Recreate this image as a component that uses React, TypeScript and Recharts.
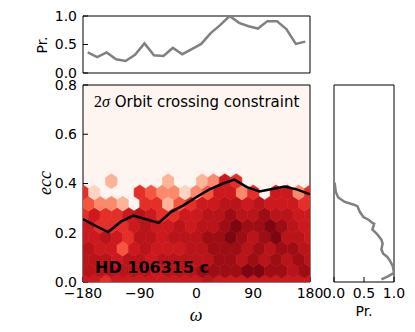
import React from "react";
import { ScatterChart, Scatter, XAxis, YAxis, CartesianGrid } from "recharts";

const omegaTicks = [-180, -90, 0, 90, 180];
const eccTicks = [0, 0.2, 0.4, 0.6, 0.8];
const prTicks = [0, 0.5, 1];

// hexbin colour level per cell, bottom row first.
// row k sits at ecc = k * ECC_STEP; even rows start at omega -180, odd rows at -171
const hexLevels = [
  [6, 6, 5, 6, 6, 6, 6, 6, 6, 6, 6, 7, 6, 6, 6, 6, 6, 6, 6, 6, 6],
  [7, 7, 7, 7, 7, 7, 6, 7, 7, 7, 8, 8, 8, 8, 9, 9, 8, 8, 7, 8],
  [7, 7, 7, 6, 7, 7, 6, 7, 7, 7, 7, 7, 8, 8, 7, 8, 7, 8, 7, 8, 7],
  [7, 6, 6, 4, 6, 7, 6, 6, 6, 7, 7, 8, 8, 8, 7, 8, 7, 8, 8, 7],
  [6, 6, 7, 6, 5, 7, 7, 6, 7, 7, 7, 8, 8, 9, 8, 7, 8, 9, 7, 7, 6],
  [6, 5, 5, 5, 6, 7, 6, 6, 7, 6, 7, 7, 8, 9, 8, 8, 9, 8, 7, 6],
  [5, 6, 5, 5, 6, 7, 6, 5, 5, 6, 6, 7, 7, 8, 7, 7, 8, 7, 7, 6, 6],
  [4, 3, 3, 2, 0, 5, 5, 2, 4, 5, 6, 6, 7, 7, 6, 7, 6, 6, 6, 5],
  [5, 1, 0, 0, 0, 5, 4, 3, 3, 1, 3, 4, 6, 6, 3, 5, 0, 6, 6, 3, 5],
  [0, 0, 2, 0, 0, 0, 0, 2, 0, 0, 2, 3, 6, 5, 0, 0, 0, 0, 0, 0],
];
const OMEGA_STEP = 18;
const ECC_STEP = 1 / 22;

const reds = ["#fff5f0", "#fdd4c2", "#fcb499", "#fc8a6a", "#f6553d", "#e32f27", "#cc191e", "#b81419", "#9e0d14", "#7f0610"];

// 2 sigma orbit crossing curve
const constraintOmega = [-180, -160, -140, -120, -100, -80, -60, -40, -20, 0, 20, 40, 60, 80, 100, 120, 140, 160, 180];
const constraintEcc = [0.255, 0.228, 0.203, 0.245, 0.27, 0.255, 0.24, 0.285, 0.312, 0.345, 0.375, 0.398, 0.416, 0.385, 0.368, 0.378, 0.388, 0.375, 0.356];

// marginal in omega
const topOmega = [-172.5, -157.5, -142.5, -127.5, -112.5, -97.5, -82.5, -67.5, -52.5, -37.5, -22.5, -7.5, 7.5, 22.5, 37.5, 52.5, 67.5, 82.5, 97.5, 112.5, 127.5, 142.5, 157.5, 172.5];
const topPr = [0.36, 0.28, 0.36, 0.24, 0.21, 0.32, 0.52, 0.31, 0.3, 0.44, 0.33, 0.42, 0.51, 0.7, 0.84, 1.0, 0.88, 0.82, 0.78, 0.91, 0.91, 0.77, 0.51, 0.55];

// marginal in ecc
const sideEcc = [0.403, 0.366, 0.343, 0.325, 0.315, 0.308, 0.285, 0.264, 0.254, 0.24, 0.237, 0.213, 0.197, 0.172, 0.156, 0.132, 0.115, 0.104, 0.088, 0.064, 0.037, 0.023, 0.011];
const sidePr = [0.01, 0.03, 0.07, 0.18, 0.32, 0.39, 0.43, 0.49, 0.57, 0.64, 0.67, 0.64, 0.71, 0.79, 0.81, 0.79, 0.82, 0.88, 0.93, 0.98, 1.0, 0.9, 0.79];

const W = 415;
const H = 332;
const PLOT_W = 227; // main plot 83..310
const PLOT_H = 197; // main plot 85..282
const HEX_HW = (PLOT_W * (OMEGA_STEP / 2)) / 360;
const HEX_HH = (PLOT_H * (1 / 33)) / 0.8;

const hexData = hexLevels.flatMap((row, k) =>
  row.map((level, i) => ({ x: (k % 2 === 0 ? -180 : -171) + i * OMEGA_STEP, y: k * ECC_STEP, level }))
).filter((d) => d.level > 0);
const constraintData = constraintOmega.map((x, i) => ({ x, y: constraintEcc[i] }));
const topData = topOmega.map((x, i) => ({ x, y: topPr[i] }));
const sideData = sideEcc.map((y, i) => ({ x: sidePr[i], y }));

const tickFont = { fontSize: 14, fill: "#000", fontFamily: "DejaVu Sans" };
const fmtOmega = (v: number) => (v < 0 ? `\u2212${-v}` : `${v}`);
const fmt1 = (v: number) => v.toFixed(1);
const noMark = () => <g />;

const Hex = (props: any) => {
  const { cx, cy, payload } = props;
  const c = reds[payload.level];
  const pts = [[0, -HEX_HH], [HEX_HW, -HEX_HH / 2], [HEX_HW, HEX_HH / 2], [0, HEX_HH], [-HEX_HW, HEX_HH / 2], [-HEX_HW, -HEX_HH / 2]]
    .map(([dx, dy]) => `${cx + dx},${cy + dy}`)
    .join(" ");
  return <polygon points={pts} fill={c} stroke={c} strokeWidth={0.6} />;
};

const abs = (left: number, top: number): React.CSSProperties => ({ position: "absolute", left, top });

export default function App() {
  return (
    <div style={{ position: "absolute", left: 0, top: 0, width: W, height: H, background: "#fff", fontFamily: "DejaVu Sans" }}>
      {/* top marginal */}
      <div style={abs(0, 0)}>
        <ScatterChart width={W} height={80} margin={{ top: 15, right: 104, bottom: 0, left: 0 }}>
          <XAxis type="number" dataKey="x" domain={[-180, 180]} ticks={omegaTicks} interval={0} tick={false} height={7} tickSize={-5} stroke="#000" allowDataOverflow />
          <XAxis xAxisId="t" orientation="top" type="number" dataKey="x" domain={[-180, 180]} ticks={omegaTicks} interval={0} tick={false} height={1} tickSize={-5} stroke="#000" allowDataOverflow />
          <YAxis type="number" dataKey="y" domain={[0, 1]} ticks={prTicks} interval={0} tickFormatter={fmt1} tick={tickFont} width={83} tickSize={-5} tickMargin={11} stroke="#000" allowDataOverflow />
          <YAxis yAxisId="r" orientation="right" type="number" dataKey="y" domain={[0, 1]} ticks={prTicks} interval={0} tick={false} width={1} tickSize={-5} stroke="#000" allowDataOverflow />
          <Scatter xAxisId="t" yAxisId="r" data={topData} shape={noMark} isAnimationActive={false} />
          <Scatter data={topData} line={{ stroke: "#808080", strokeWidth: 2.5 }} shape={noMark} isAnimationActive={false} />
        </ScatterChart>
      </div>

      {/* main hexbin */}
      <div style={abs(0, 0)}>
        <ScatterChart width={W} height={H} margin={{ top: 84, right: W - 311, bottom: 0, left: 0 }}>
          <CartesianGrid horizontal={false} vertical={false} fill="#fff5f0" />
          <XAxis type="number" dataKey="x" domain={[-180, 180]} ticks={omegaTicks} interval={0} tickFormatter={fmtOmega} tick={tickFont} height={50} tickSize={-5} tickMargin={11} stroke="#000" allowDataOverflow />
          <XAxis xAxisId="t" orientation="top" type="number" dataKey="x" domain={[-180, 180]} ticks={omegaTicks} interval={0} tick={false} height={1} tickSize={-5} stroke="#000" allowDataOverflow />
          <YAxis type="number" dataKey="y" domain={[0, 0.8]} ticks={eccTicks} interval={0} tickFormatter={fmt1} tick={tickFont} width={83} tickSize={-5} tickMargin={11} stroke="#000" allowDataOverflow />
          <YAxis yAxisId="r" orientation="right" type="number" dataKey="y" domain={[0, 0.8]} ticks={eccTicks} interval={0} tick={false} width={1} tickSize={-5} stroke="#000" allowDataOverflow />
          <Scatter data={hexData} shape={Hex} isAnimationActive={false} />
          <Scatter data={constraintData} line={{ stroke: "#000", strokeWidth: 2.5 }} shape={noMark} isAnimationActive={false} />
          <Scatter xAxisId="t" yAxisId="r" data={constraintData} shape={noMark} isAnimationActive={false} />
        </ScatterChart>
      </div>

      {/* right marginal */}
      <div style={abs(300, 0)}>
        <ScatterChart width={115} height={H} margin={{ top: 84, right: 20, bottom: 0, left: 0 }}>
          <XAxis type="number" dataKey="x" domain={[0, 1]} ticks={prTicks} interval={0} tickFormatter={fmt1} tick={tickFont} height={50} tickSize={-5} tickMargin={11} stroke="#000" allowDataOverflow />
          <XAxis xAxisId="t" orientation="top" type="number" dataKey="x" domain={[0, 1]} ticks={prTicks} interval={0} tick={false} height={1} tickSize={-5} stroke="#000" allowDataOverflow />
          <YAxis type="number" dataKey="y" domain={[0, 0.8]} ticks={eccTicks} interval={0} tick={false} width={34} tickSize={-5} stroke="#000" allowDataOverflow />
          <YAxis yAxisId="r" orientation="right" type="number" dataKey="y" domain={[0, 0.8]} ticks={eccTicks} interval={0} tick={false} width={1} tickSize={-5} stroke="#000" allowDataOverflow />
          <Scatter xAxisId="t" yAxisId="r" data={sideData} shape={noMark} isAnimationActive={false} />
          <Scatter data={sideData} line={{ stroke: "#808080", strokeWidth: 2.5 }} shape={noMark} isAnimationActive={false} />
        </ScatterChart>
      </div>

      {/* labels */}
      <svg width={W} height={H} style={{ ...abs(0, 0), pointerEvents: "none" }}>
        <text x={42} y={45} fontSize={14} textAnchor="middle" dominantBaseline="central" transform="rotate(-90 42 45)">Pr.</text>
        <text x={45} y={183} fontSize={18} fontFamily="Liberation Serif" fontStyle="italic" textAnchor="middle" dominantBaseline="central" transform="rotate(-90 45 183)">ecc</text>
        <text x={196} y={315} fontSize={18} fontFamily="Liberation Serif" fontStyle="italic" textAnchor="middle" dominantBaseline="central">ω</text>
        <text x={364} y={311} fontSize={14} textAnchor="middle" dominantBaseline="central">Pr.</text>
        <text x={94} y={107} fontSize={15}>
          <tspan fontFamily="Liberation Serif" fontSize={16}>2</tspan>
          <tspan fontFamily="Liberation Serif" fontStyle="italic" fontSize={16}>σ</tspan>
          <tspan> Orbit crossing constraint</tspan>
        </text>
        <text x={95} y={273} fontSize={16} fontWeight="bold">HD 106315 c</text>
      </svg>
    </div>
  );
}
